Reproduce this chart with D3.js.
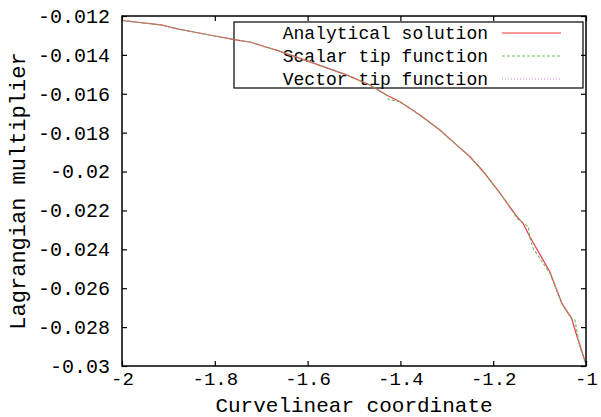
<!DOCTYPE html>
<html>
<head>
<meta charset="utf-8">
<script src="https://cdn.jsdelivr.net/npm/d3@7"></script>
<style>
  body { margin: 0; background: #fff; }
  svg text { font-family: "Liberation Mono", "DejaVu Sans Mono", monospace; fill: #000; }
</style>
</head>
<body>
<div id="chart"></div>
<script>
// values
var analyticalX = [-2.000, -1.916, -1.879, -1.800, -1.761, -1.722, -1.692, -1.664, -1.610, -1.516,
  -1.466, -1.430, -1.401, -1.358, -1.315, -1.279, -1.250, -1.221, -1.185, -1.149,
  -1.136, -1.121, -1.078, -1.052, -1.031, -1.019, -1.000];
var analyticalY = [-0.01223, -0.01246, -0.01267, -0.01303, -0.01320, -0.01335, -0.01358, -0.01378, -0.01423, -0.01503,
  -0.01555, -0.01606, -0.01641, -0.01709, -0.01786, -0.01863, -0.01924, -0.02001, -0.02112, -0.02232,
  -0.02265, -0.02335, -0.02515, -0.02678, -0.02755, -0.02851, -0.02990];

var scalarX = [-2.000, -1.916, -1.879, -1.800, -1.761, -1.722, -1.692, -1.664, -1.610, -1.516,
  -1.466, -1.430, -1.425, -1.414, -1.401, -1.358, -1.315, -1.279, -1.250, -1.221, -1.185, -1.147,
  -1.124, -1.122, -1.114, -1.085, -1.078, -1.052, -1.031, -1.024, -1.020, -1.013, -1.000];
var scalarY = [-0.01223, -0.01246, -0.01267, -0.01303, -0.01320, -0.01335, -0.01358, -0.01378, -0.01423, -0.01503,
  -0.01555, -0.01606, -0.01629, -0.01635, -0.01641, -0.01709, -0.01786, -0.01863, -0.01924, -0.02001, -0.02112, -0.02244,
  -0.02284, -0.02335, -0.02395, -0.02498, -0.02522, -0.02678, -0.02758, -0.02763, -0.02815, -0.02901, -0.02990];

var vectorX = [-2.000, -1.916, -1.879, -1.800, -1.761, -1.722, -1.692, -1.664, -1.610, -1.516,
  -1.466, -1.430, -1.401, -1.358, -1.315, -1.279, -1.250, -1.221, -1.185, -1.149,
  -1.136, -1.121, -1.078, -1.052, -1.031, -1.019, -1.000];
var vectorY = [-0.01223, -0.01246, -0.01267, -0.01303, -0.01320, -0.01335, -0.01358, -0.01378, -0.01423, -0.01503,
  -0.01555, -0.01606, -0.01641, -0.01709, -0.01786, -0.01863, -0.01924, -0.02001, -0.02112, -0.02232,
  -0.02265, -0.02335, -0.02515, -0.02678, -0.02755, -0.02851, -0.02990];

var xTicks = [-2, -1.8, -1.6, -1.4, -1.2, -1];
var xTickLabels = ["-2", "-1.8", "-1.6", "-1.4", "-1.2", "-1"];
var yTicks = [-0.012, -0.014, -0.016, -0.018, -0.02, -0.022, -0.024, -0.026, -0.028, -0.03];
var yTickLabels = ["-0.012", "-0.014", "-0.016", "-0.018", "-0.02", "-0.022", "-0.024", "-0.026", "-0.028", "-0.03"];

var seriesNames = ["Analytical solution", "Scalar tip function", "Vector tip function"];

var W = 601, H = 417;
var margin = {top: 16, right: 15, bottom: 51, left: 122};
var width = W - margin.left - margin.right,
    height = H - margin.top - margin.bottom;

var svg = d3.select("#chart").append("svg")
    .attr("width", W)
    .attr("height", H);

var g = svg.append("g")
    .attr("transform", "translate(" + margin.left + "," + margin.top + ")");

var x = d3.scaleLinear().domain([-2, -1]).range([0, width]);
var y = d3.scaleLinear().domain([-0.03, -0.012]).range([height, 0]);

// axes: gnuplot style, ticks pointing in, mirrored
g.append("g")
    .attr("transform", "translate(0," + height + ")")
    .call(d3.axisBottom(x).tickValues(xTicks).tickSize(-5).tickPadding(6)
      .tickFormat(function(d, i) { return xTickLabels[i]; }))
    .call(function(a) { a.select(".domain").remove(); })
    .selectAll("text").style("font-size", "19px");

g.append("g")
    .call(d3.axisLeft(y).tickValues(yTicks).tickSize(-5).tickPadding(12)
      .tickFormat(function(d, i) { return yTickLabels[i]; }))
    .call(function(a) { a.select(".domain").remove(); })
    .selectAll("text").style("font-size", "20px");

g.append("g")
    .call(d3.axisTop(x).tickValues(xTicks).tickSize(-5).tickFormat(""))
    .call(function(a) { a.select(".domain").remove(); });

g.append("g")
    .attr("transform", "translate(" + width + ",0)")
    .call(d3.axisRight(y).tickValues(yTicks).tickSize(-5).tickFormat(""))
    .call(function(a) { a.select(".domain").remove(); });

g.selectAll(".tick line").attr("stroke", "#000").attr("stroke-width", 1.2);

var series = [
  {xs: analyticalX, ys: analyticalY, color: "#ff3030", dash: null, w: 1.2},
  {xs: scalarX, ys: scalarY, color: "#66bb55", dash: "3,2", w: 1.1},
  {xs: vectorX, ys: vectorY, color: "#c070c0", dash: "1,2", w: 0.9}
];

// legend (box is not filled, curves run over it)
var legend = g.append("g");
legend.append("rect")
    .attr("x", 234 - margin.left).attr("y", 22 - margin.top)
    .attr("width", 349).attr("height", 66)
    .attr("fill", "none").attr("stroke", "#000").attr("stroke-width", 1.2);

series.forEach(function(s, i) {
  var cy = 33 - margin.top + i * 23;
  legend.append("text")
    .attr("x", 488 - margin.left).attr("y", cy).attr("dy", "0.35em")
    .attr("text-anchor", "end")
    .style("font-size", "18px")
    .text(seriesNames[i]);
  legend.append("line")
    .attr("x1", 502 - margin.left).attr("x2", 561 - margin.left)
    .attr("y1", cy).attr("y2", cy)
    .attr("stroke", s.color).attr("stroke-width", s.w)
    .attr("stroke-dasharray", s.dash);
});

// curves
var line = d3.line().x(function(d) { return x(d[0]); }).y(function(d) { return y(d[1]); });

series.forEach(function(s) {
  g.append("path")
    .datum(d3.zip(s.xs, s.ys))
    .attr("fill", "none")
    .attr("stroke", s.color)
    .attr("stroke-width", s.w)
    .attr("stroke-dasharray", s.dash)
    .attr("d", line);
});

// frame
g.append("rect")
    .attr("width", width).attr("height", height)
    .attr("fill", "none").attr("stroke", "#000").attr("stroke-width", 1.5);

// axis titles
svg.append("text")
    .attr("x", margin.left + width / 2).attr("y", 412)
    .attr("text-anchor", "middle")
    .style("font-size", "21px")
    .text("Curvelinear coordinate");

svg.append("text")
    .attr("transform", "translate(25," + (margin.top + height / 2) + ") rotate(-90)")
    .attr("text-anchor", "middle")
    .style("font-size", "22px")
    .text("Lagrangian multiplier");
</script>
</body>
</html>
